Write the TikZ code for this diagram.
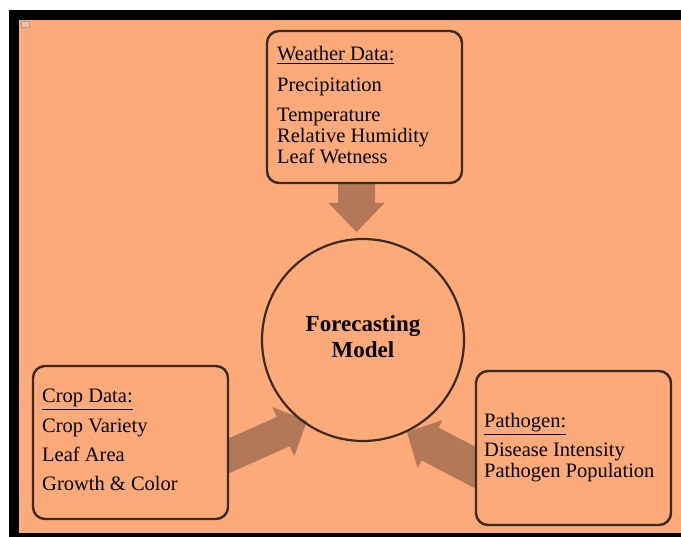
\documentclass[tikz,border=0pt]{standalone}
\usepackage{fontspec}
\setmainfont{Liberation Serif}
\definecolor{bg}{RGB}{253,170,122}
\definecolor{arr}{RGB}{178,120,88}
\definecolor{edge}{RGB}{58,42,32}
\begin{document}
\begin{tikzpicture}[x=1pt,y=-1pt,
  box/.style={draw=edge, line width=2.4pt, rounded corners=12pt, fill=bg, minimum width=195pt, inner sep=0pt},
  txt/.style={anchor=base west, inner sep=0pt, font=\fontsize{20.5}{24}\selectfont, text=black},
  bold/.style={anchor=base, inner sep=0pt, font=\fontsize{23}{26}\selectfont\bfseries, text=black},
  blockarrow/.style={fill=arr}]
\useasboundingbox (0,0) rectangle (681,537);
\begin{scope}
\clip (0,0) rectangle (681,537);
\fill[white] (0,0) rectangle (681,537);
\fill[black] (9,10) rectangle (700,560);
\fill[bg] (19,20) rectangle (700,533);
\end{scope}
\draw[edge!45, fill=bg!80!white, line width=0.7pt] (21,21) rectangle (29,27);

% block arrows (drawn first, box edges cover their tails)
\coordinate (tipW) at (356.5,232);
\coordinate (tipC) at (307,421);
\coordinate (tipP) at (407,432);
\fill[blockarrow, shift={(tipW)}, rotate=-90] (0,0) -- (-29,-28) -- (-29,-18.5) -- (-70,-18.5) -- (-70,18.5) -- (-29,18.5) -- (-29,28) -- cycle;
\fill[blockarrow, shift={(tipC)}, rotate=24] (0,0) -- (-26,-27) -- (-26,-16) -- (-110,-16) -- (-110,16) -- (-26,16) -- (-26,27) -- cycle;
\fill[blockarrow, shift={(tipP)}, rotate=152.5] (0,0) -- (-26,-27) -- (-26,-18.5) -- (-110,-18.5) -- (-110,18.5) -- (-26,18.5) -- (-26,27) -- cycle;

% boxes
\node[box, minimum height=152pt] (weather) at (364.5,107) {};
\node[box, minimum height=153pt] (crop) at (130.5,442.5) {};
\node[box, minimum height=154pt] (patho) at (573.5,448) {};
\node[draw=edge, line width=2.2pt, circle, minimum size=202pt, inner sep=0pt] (model) at (363,340) {};

% weather text
\node[txt] (w1) at (277,61) {\underline{Weather Data:}};
\node[txt] (w2) at (277,92) {Precipitation};
\node[txt] (w3) at (277,122) {Temperature};
\node[txt] (w4) at (277,143) {Relative Humidity};
\node[txt] (w5) at (277,163.5) {Leaf Wetness};

% crop text
\node[txt] (c1) at (42,403) {\underline{Crop Data:}};
\node[txt] (c2) at (42,433) {Crop Variety};
\node[txt] (c3) at (42,461.5) {Leaf Area};
\node[txt] (c4) at (42,490.5) {Growth \& Color};

% pathogen text
\node[txt] (p1) at (484,428) {\underline{Pathogen:}};
\node[txt] (p2) at (484,457) {Disease Intensity};
\node[txt] (p3) at (484,478) {Pathogen Population};

% model text
\node[bold] (m1) at (363,332) {Forecasting};
\node[bold] (m2) at (363,358) {Model};
\end{tikzpicture}
\end{document}
